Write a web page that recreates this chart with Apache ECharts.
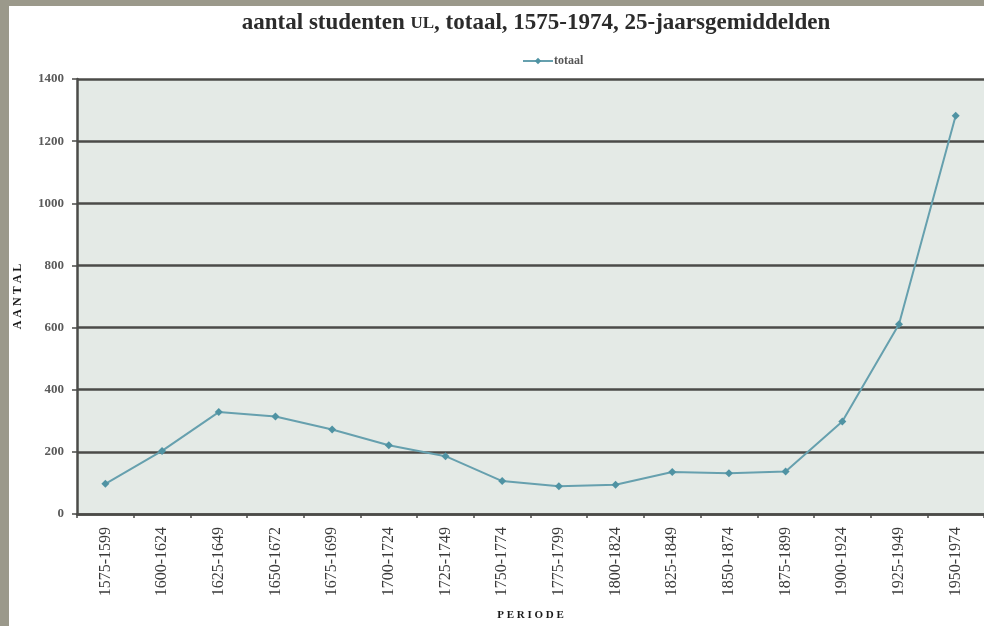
<!DOCTYPE html>
<html>
<head>
<meta charset="utf-8">
<title>aantal studenten UL, totaal, 1575-1974</title>
<script src="https://cdn.jsdelivr.net/npm/echarts@6/dist/echarts.min.js"></script>
<style>
  html, body { margin: 0; padding: 0; background: #ffffff; }
  #chart { width: 984px; height: 626px; }
</style>
</head>
<body>
<div id="chart"></div>
<script>
// 25-year periods
const periods = [
  '1575-1599', '1600-1624', '1625-1649', '1650-1672', '1675-1699', '1700-1724',
  '1725-1749', '1750-1774', '1775-1799', '1800-1824', '1825-1849', '1850-1874',
  '1875-1899', '1900-1924', '1925-1949', '1950-1974'
];
// average number of students per period
const totaal = [97, 203, 328, 314, 272, 221, 186, 106, 89, 94, 135, 131, 137, 298, 611, 1282];
const yTicks = { min: 0, max: 1400, interval: 200 };

const serif = '"Liberation Serif", "DejaVu Serif", serif';
const dark = '#4b4b48';

const chart = echarts.init(document.getElementById('chart'), null, { renderer: 'canvas' });
chart.setOption({
  backgroundColor: '#ffffff',
  animation: false,
  graphic: [
    { type: 'rect', left: 0, top: 0, shape: { width: 9, height: 626 }, style: { fill: '#9b998b' }, z: 100 },
    { type: 'rect', left: 0, top: 0, shape: { width: 984, height: 6 }, style: { fill: '#9b998b' }, z: 100 }
  ],
  title: {
    text: 'aantal studenten {sc|UL}, totaal, 1575-1974, 25-jaarsgemiddelden',
    left: 531,
    top: 7,
    textAlign: 'center',
    textStyle: {
      fontFamily: serif,
      fontSize: 23,
      fontWeight: 'bold',
      color: '#2b2b2b',
      rich: {
        sc: { fontFamily: serif, fontSize: 17, fontWeight: 'bold', color: '#2b2b2b' }
      }
    }
  },
  legend: {
    left: 517,
    top: 50,
    itemWidth: 30,
    itemHeight: 8,
    itemGap: 4,
    textStyle: { fontFamily: serif, fontSize: 12, fontWeight: 'bold', color: '#555555', padding: [0, 0, 0, -4] },
    data: ['totaal']
  },
  grid: {
    left: 77,
    top: 79,
    width: 915,
    height: 438,
    show: true,
    backgroundColor: '#e4eae6',
    borderWidth: 0
  },
  xAxis: {
    type: 'category',
    data: periods,
    boundaryGap: true,
    name: 'P E R I O D E',
    nameLocation: 'middle',
    nameGap: 96,
    nameTextStyle: { fontFamily: serif, fontSize: 11, fontWeight: 'bold', color: '#1a1a1a' },
    axisLine: { show: true, lineStyle: { color: dark, width: 2.5 } },
    axisTick: { show: true, alignWithLabel: false, length: 4, lineStyle: { color: dark, width: 1.5 } },
    axisLabel: {
      rotate: 90,
      margin: 13,
      fontFamily: serif,
      fontSize: 16,
      color: '#3a3a3a'
    },
    splitLine: { show: false }
  },
  yAxis: {
    type: 'value',
    min: yTicks.min,
    max: yTicks.max,
    interval: yTicks.interval,
    name: 'A A N T A L',
    nameLocation: 'middle',
    nameRotate: 90,
    nameGap: 53,
    nameTextStyle: { fontFamily: serif, fontSize: 12, fontWeight: 'bold', color: '#1a1a1a' },
    axisLine: { show: true, lineStyle: { color: dark, width: 2.5 } },
    axisTick: { show: true, length: 5, lineStyle: { color: dark, width: 1.5 } },
    axisLabel: {
      margin: 13,
      fontFamily: serif,
      fontSize: 13,
      fontWeight: 'bold',
      color: '#5a5a5a',
      formatter: (v) => String(v)
    },
    splitLine: { show: true, lineStyle: { color: dark, width: 2.5 } }
  },
  series: [{
    name: 'totaal',
    type: 'line',
    data: totaal,
    symbol: 'diamond',
    symbolSize: 8,
    lineStyle: { color: '#66a0ae', width: 2 },
    itemStyle: { color: '#4f93a3' },
    z: 5
  }]
});
</script>
</body>
</html>
